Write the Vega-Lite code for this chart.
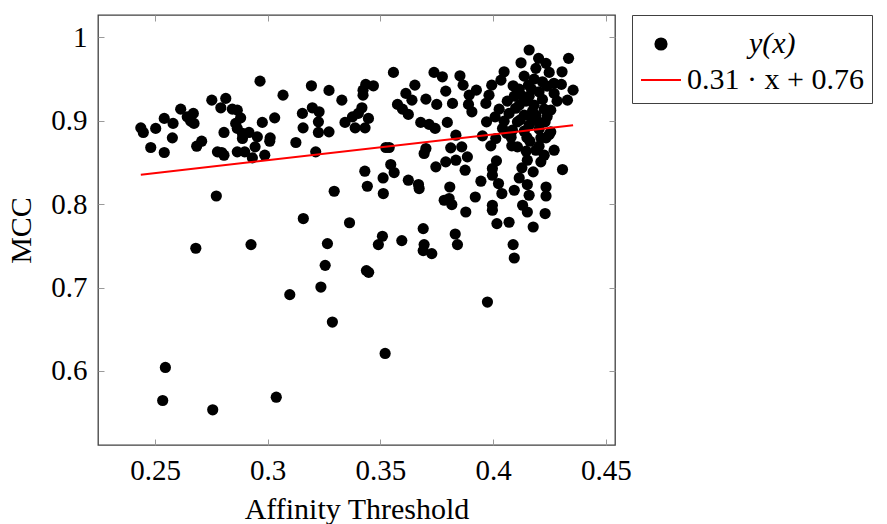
{
  "$schema": "https://vega.github.io/schema/vega-lite/v6.json",
  "width": 517,
  "height": 430,
  "padding": {"left": 6, "top": 14, "right": 0, "bottom": 0},
  "datasets": {
    "pts": [
      {"x":0.2437,"y":0.8915},{"x":0.2448,"y":0.8860},{"x":0.2503,"y":0.8908},{"x":0.2481,"y":0.8679},{"x":0.2541,"y":0.9028},
      {"x":0.2541,"y":0.8619},{"x":0.2580,"y":0.8968},{"x":0.2577,"y":0.8795},{"x":0.2614,"y":0.9139},{"x":0.2643,"y":0.9047},
      {"x":0.2670,"y":0.9088},{"x":0.2673,"y":0.8968},{"x":0.2658,"y":0.8995},{"x":0.2685,"y":0.8695},{"x":0.2707,"y":0.8755},
      {"x":0.2752,"y":0.9247},{"x":0.2814,"y":0.9268},{"x":0.2792,"y":0.9155},{"x":0.2843,"y":0.9139},{"x":0.2865,"y":0.9127},
      {"x":0.2880,"y":0.9035},{"x":0.2858,"y":0.8968},{"x":0.2865,"y":0.8908},{"x":0.2888,"y":0.8848},{"x":0.2888,"y":0.8787},
      {"x":0.2917,"y":0.8860},{"x":0.2954,"y":0.8807},{"x":0.2944,"y":0.8687},{"x":0.2806,"y":0.8860},{"x":0.2777,"y":0.8627},
      {"x":0.2806,"y":0.8587},{"x":0.2796,"y":0.8619},{"x":0.2865,"y":0.8627},{"x":0.2898,"y":0.8627},{"x":0.2932,"y":0.8555},
      {"x":0.2987,"y":0.8587},{"x":0.2966,"y":0.9475},{"x":0.2976,"y":0.8980},{"x":0.3011,"y":0.8795},{"x":0.3009,"y":0.8755},
      {"x":0.3031,"y":0.9035},{"x":0.2772,"y":0.8098},
      {"x":0.3558,"y":0.9580},{"x":0.3738,"y":0.9580},{"x":0.3775,"y":0.9527},{"x":0.3194,"y":0.9419},{"x":0.3272,"y":0.9364},
      {"x":0.3068,"y":0.9307},{"x":0.3329,"y":0.9247},{"x":0.3435,"y":0.9436},{"x":0.3469,"y":0.9419},{"x":0.3423,"y":0.9367},
      {"x":0.3423,"y":0.9307},{"x":0.3653,"y":0.9427},{"x":0.3613,"y":0.9328},{"x":0.3640,"y":0.9247},{"x":0.3702,"y":0.9259},
      {"x":0.3750,"y":0.9196},{"x":0.3790,"y":0.9355},{"x":0.3576,"y":0.9196},{"x":0.3598,"y":0.9139},{"x":0.3624,"y":0.9076},
      {"x":0.3154,"y":0.9088},{"x":0.3198,"y":0.9155},{"x":0.3228,"y":0.9107},{"x":0.3418,"y":0.9155},{"x":0.3402,"y":0.9088},
      {"x":0.3447,"y":0.9028},{"x":0.3376,"y":0.9047},{"x":0.3343,"y":0.8980},{"x":0.3388,"y":0.8915},{"x":0.3432,"y":0.8915},
      {"x":0.3225,"y":0.8987},{"x":0.3157,"y":0.8915},{"x":0.3225,"y":0.8860},{"x":0.3272,"y":0.8867},{"x":0.3679,"y":0.8980},
      {"x":0.3716,"y":0.8956},{"x":0.3743,"y":0.8908},{"x":0.3797,"y":0.8980},{"x":0.3125,"y":0.8739},{"x":0.3213,"y":0.8627},
      {"x":0.3524,"y":0.8679},{"x":0.3539,"y":0.8679},{"x":0.3702,"y":0.8667},{"x":0.3694,"y":0.8607},{"x":0.3790,"y":0.8507},
      {"x":0.3746,"y":0.8447},{"x":0.3546,"y":0.8475},{"x":0.3561,"y":0.8379},{"x":0.3431,"y":0.8395},{"x":0.3512,"y":0.8314},
      {"x":0.3624,"y":0.8287},{"x":0.3669,"y":0.8235},{"x":0.3672,"y":0.8187},{"x":0.3442,"y":0.8215},{"x":0.3513,"y":0.8127},
      {"x":0.3295,"y":0.8155},{"x":0.3783,"y":0.8047},
      {"x":0.4160,"y":0.9848},{"x":0.4335,"y":0.9748},{"x":0.4202,"y":0.9748},{"x":0.4235,"y":0.9688},{"x":0.4124,"y":0.9695},
      {"x":0.4190,"y":0.9628},{"x":0.4249,"y":0.9580},{"x":0.4306,"y":0.9587},{"x":0.4049,"y":0.9587},{"x":0.4138,"y":0.9535},
      {"x":0.4035,"y":0.9487},{"x":0.3853,"y":0.9539},{"x":0.3867,"y":0.9427},{"x":0.3926,"y":0.9367},{"x":0.3994,"y":0.9427},
      {"x":0.4089,"y":0.9419},{"x":0.4157,"y":0.9427},{"x":0.4219,"y":0.9467},{"x":0.4303,"y":0.9436},{"x":0.4355,"y":0.9367},
      {"x":0.4330,"y":0.9247},{"x":0.4271,"y":0.9328},{"x":0.4204,"y":0.9347},{"x":0.4124,"y":0.9307},{"x":0.3894,"y":0.9307},
      {"x":0.3982,"y":0.9307},{"x":0.3820,"y":0.9208},{"x":0.3891,"y":0.9196},{"x":0.3968,"y":0.9208},{"x":0.3906,"y":0.9107},
      {"x":0.4116,"y":0.9187},{"x":0.4182,"y":0.9187},{"x":0.4256,"y":0.9127},{"x":0.4071,"y":0.9088},{"x":0.4138,"y":0.9067},
      {"x":0.4190,"y":0.9067},{"x":0.4009,"y":0.9047},{"x":0.3971,"y":0.8987},{"x":0.4108,"y":0.8987},{"x":0.4160,"y":0.8947},
      {"x":0.4231,"y":0.8987},{"x":0.4042,"y":0.8908},{"x":0.4086,"y":0.8887},{"x":0.4256,"y":0.8867},{"x":0.3835,"y":0.8827},
      {"x":0.3953,"y":0.8819},{"x":0.4012,"y":0.8787},{"x":0.4235,"y":0.8795},{"x":0.4163,"y":0.8755},{"x":0.3990,"y":0.8699},
      {"x":0.3812,"y":0.8675},{"x":0.3861,"y":0.8687},{"x":0.4083,"y":0.8699},{"x":0.4108,"y":0.8687},{"x":0.4190,"y":0.8647},
      {"x":0.4271,"y":0.8647},{"x":0.3886,"y":0.8567},{"x":0.3835,"y":0.8527},{"x":0.4015,"y":0.8519},{"x":0.4152,"y":0.8527},
      {"x":0.4212,"y":0.8507},{"x":0.3997,"y":0.8427},{"x":0.4128,"y":0.8435},{"x":0.4178,"y":0.8387},{"x":0.3876,"y":0.8407},
      {"x":0.4308,"y":0.8415},{"x":0.3997,"y":0.8347},{"x":0.4116,"y":0.8314},{"x":0.3946,"y":0.8275},{"x":0.4024,"y":0.8247},
      {"x":0.4152,"y":0.8235},{"x":0.4235,"y":0.8206},{"x":0.3808,"y":0.8206},{"x":0.4094,"y":0.8167},{"x":0.4039,"y":0.8127},
      {"x":0.4160,"y":0.8107},{"x":0.4235,"y":0.8098},{"x":0.3921,"y":0.8086},{"x":0.3805,"y":0.8067},{"x":0.3817,"y":0.7995},
      {"x":0.3997,"y":0.7987},{"x":0.4131,"y":0.7987},{"x":0.3879,"y":0.7906},{"x":0.4152,"y":0.7906},{"x":0.4231,"y":0.7887},
      {"x":0.3997,"y":0.7927},
      {"x":0.4175,"y":0.9115},{"x":0.4219,"y":0.9256},{"x":0.4146,"y":0.9235},{"x":0.4197,"y":0.8995},{"x":0.4212,"y":0.8795},
      {"x":0.4249,"y":0.8836},
      {"x":0.3363,"y":0.7777},{"x":0.3158,"y":0.7827},{"x":0.3509,"y":0.7615},{"x":0.3491,"y":0.7515},{"x":0.3595,"y":0.7563},
      {"x":0.3690,"y":0.7707},{"x":0.3694,"y":0.7515},{"x":0.3690,"y":0.7443},{"x":0.3728,"y":0.7407},{"x":0.3832,"y":0.7642},
      {"x":0.3842,"y":0.7515},{"x":0.4017,"y":0.7767},{"x":0.4071,"y":0.7783},{"x":0.4089,"y":0.7515},{"x":0.4094,"y":0.7354},
      {"x":0.4178,"y":0.7726},{"x":0.3438,"y":0.7203},{"x":0.3448,"y":0.7182},{"x":0.3975,"y":0.6826},{"x":0.3521,"y":0.6210},
      {"x":0.2681,"y":0.7471},{"x":0.2926,"y":0.7515},{"x":0.3265,"y":0.7527},{"x":0.3255,"y":0.7266},{"x":0.3236,"y":0.7006},
      {"x":0.3098,"y":0.6915},{"x":0.3287,"y":0.6586},{"x":0.2546,"y":0.6042},{"x":0.2534,"y":0.5646},{"x":0.2756,"y":0.5534},
      {"x":0.3038,"y":0.5685},
      {"x":0.4063,"y":0.9235},{"x":0.4094,"y":0.9295},{"x":0.4160,"y":0.9295},{"x":0.4227,"y":0.9139},{"x":0.4138,"y":0.8875},
      {"x":0.4204,"y":0.8899},{"x":0.4049,"y":0.8995},{"x":0.4116,"y":0.9379},{"x":0.4182,"y":0.9499},{"x":0.4240,"y":0.9415},
      {"x":0.4284,"y":0.9235},{"x":0.4027,"y":0.9139},{"x":0.4080,"y":0.8803},{"x":0.4204,"y":0.8695},{"x":0.4147,"y":0.8635},
      {"x":0.4227,"y":0.8587},{"x":0.4120,"y":0.9010},{"x":0.4170,"y":0.9030},{"x":0.4100,"y":0.9150},{"x":0.4150,"y":0.8800},
      {"x":0.4060,"y":0.8850},{"x":0.4240,"y":0.9050},{"x":0.4170,"y":0.9380},{"x":0.4270,"y":0.9450}
    ],
    "fit": [
      {"x":0.2437,"y":0.8352},{"x":0.4355,"y":0.8945}
    ]
  },
  "layer": [
    {
      "data": {"name": "pts"},
      "mark": {"type": "point", "filled": true, "size": 125, "opacity": 1},
      "encoding": {
        "x": {"field": "x", "type": "quantitative",
          "scale": {"domain": [0.2247, 0.4541], "nice": false, "zero": false},
          "axis": {"title": "Affinity Threshold", "orient": "bottom", "values": [0.25, 0.3, 0.35, 0.4, 0.45], "format": "~g", "titlePadding": 9}},
        "y": {"field": "y", "type": "quantitative",
          "scale": {"domain": [0.5112, 1.0268], "nice": false, "zero": false},
          "axis": {"title": "MCC", "orient": "left", "values": [0.6, 0.7, 0.8, 0.9, 1], "format": "~g", "titlePadding": 14}},
        "color": {"datum": "y(x)", "type": "nominal",
          "scale": {"domain": ["y(x)", "0.31 · x + 0.76"], "range": ["#000000", "#ff0000"]},
          "legend": {
            "title": null, "orient": "right", "offset": 16,
            "symbolSize": 1600, "symbolStrokeWidth": 2,
            "encode": {
              "symbols": {"update": {
                "shape": {"signal": "datum.value === 'y(x)' ? 'circle' : 'stroke'"},
                "size": {"signal": "datum.value === 'y(x)' ? 125 : 1600"},
                "fill": {"signal": "datum.value === 'y(x)' ? '#000000' : 'transparent'"},
                "stroke": {"signal": "datum.value === 'y(x)' ? 'transparent' : '#ff0000'"},
                "strokeWidth": {"value": 2},
                "opacity": {"value": 1}
              }},
              "labels": {"update": {
                "fontStyle": {"signal": "datum.value === 'y(x)' ? 'italic' : 'normal'"},
                "dx": {"signal": "datum.value === 'y(x)' ? 62 : 0"}
              }}
            }
          }}
      }
    },
    {
      "data": {"name": "fit"},
      "mark": {"type": "line", "strokeWidth": 2},
      "encoding": {
        "x": {"field": "x", "type": "quantitative",
          "scale": {"domain": [0.2247, 0.4541], "nice": false, "zero": false},
          "axis": {"title": null, "orient": "top", "labels": false, "values": [0.25, 0.3, 0.35, 0.4, 0.45]}},
        "y": {"field": "y", "type": "quantitative",
          "scale": {"domain": [0.5112, 1.0268], "nice": false, "zero": false},
          "axis": {"title": null, "orient": "right", "labels": false, "values": [0.6, 0.7, 0.8, 0.9, 1]}},
        "color": {"datum": "0.31 · x + 0.76", "type": "nominal",
          "legend": {
            "title": null, "orient": "right", "offset": 16,
            "symbolSize": 1600, "symbolStrokeWidth": 2,
            "encode": {
              "symbols": {"update": {
                "shape": {"signal": "datum.value === 'y(x)' ? 'circle' : 'stroke'"},
                "size": {"signal": "datum.value === 'y(x)' ? 125 : 1600"},
                "fill": {"signal": "datum.value === 'y(x)' ? '#000000' : 'transparent'"},
                "stroke": {"signal": "datum.value === 'y(x)' ? 'transparent' : '#ff0000'"},
                "strokeWidth": {"value": 2},
                "opacity": {"value": 1}
              }},
              "labels": {"update": {
                "fontStyle": {"signal": "datum.value === 'y(x)' ? 'italic' : 'normal'"},
                "dx": {"signal": "datum.value === 'y(x)' ? 62 : 0"}
              }}
            }
          }}
      }
    }
  ],
  "resolve": {"axis": {"x": "independent", "y": "independent"}},
  "config": {
    "font": "Liberation Serif, Times New Roman, serif",
    "view": {"stroke": "#404040", "strokeWidth": 1.3},
    "axis": {
      "labelFont": "Liberation Serif, Times New Roman, serif", "labelFontSize": 29, "labelColor": "#000000",
      "titleFont": "Liberation Serif, Times New Roman, serif", "titleFontSize": 30, "titleFontWeight": "normal", "titleColor": "#000000",
      "tickColor": "#9a9a9a", "tickSize": -6, "tickWidth": 1,
      "domain": false, "grid": false, "labelPadding": 17,
      "labelFlush": false, "labelOverlap": false
    },
    "legend": {
      "labelFont": "Liberation Serif, Times New Roman, serif", "labelFontSize": 30, "labelColor": "#000000",
      "strokeColor": "#404040", "fillColor": "#ffffff", "padding": 8, "rowPadding": 0,
      "labelOffset": 5, "labelLimit": 400
    }
  }
}
